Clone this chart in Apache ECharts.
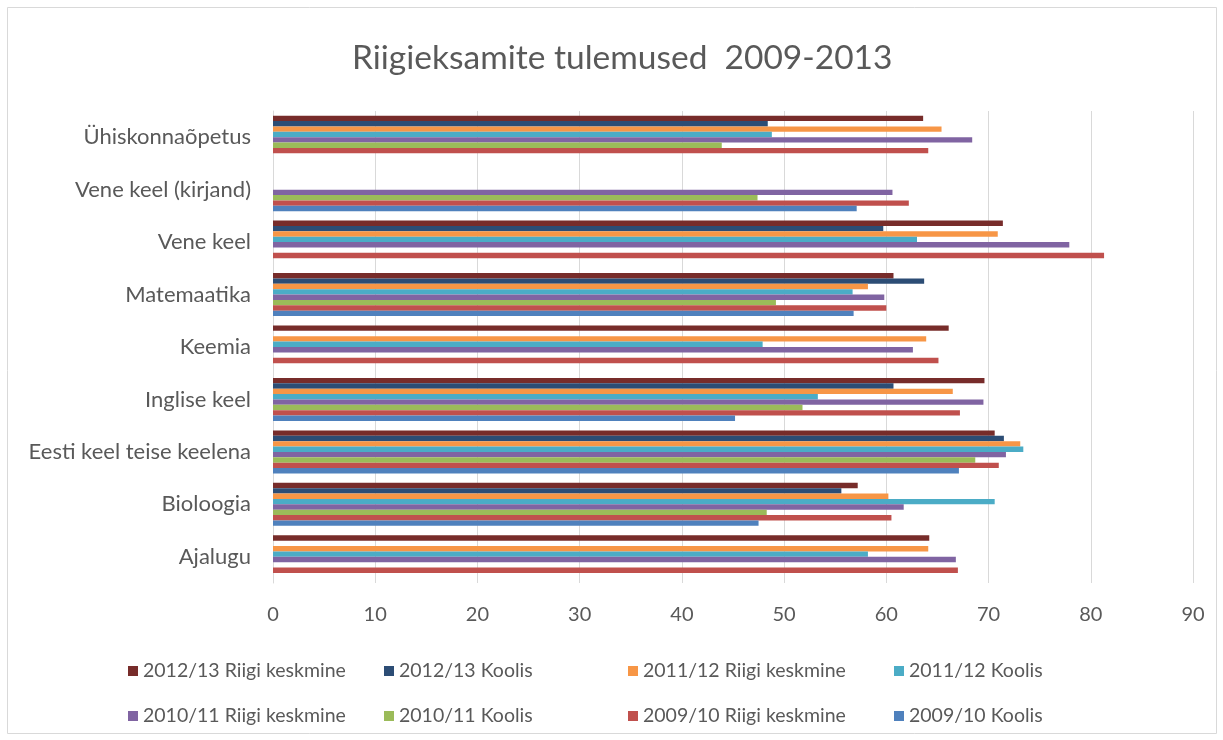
<!DOCTYPE html>
<html>
<head>
<meta charset="utf-8">
<script src="https://cdn.jsdelivr.net/npm/echarts@6.0.0/dist/echarts.min.js"></script>
<style>
html,body{margin:0;padding:0;background:#fff;}
#chart{width:1223px;height:740px;}
</style>
</head>
<body>
<div id="chart"></div>
<script>
// Categories, bottom to top
const categories = ['Ajalugu', 'Bioloogia', 'Eesti keel teise keelena', 'Inglise keel', 'Keemia', 'Matemaatika', 'Vene keel', 'Vene keel (kirjand)', 'Ühiskonnaõpetus'];

const titleText = 'Riigieksamite tulemused  2009-2013';

// Series values (same order as categories)
const riigi1213  = [64.2, 57.2, 70.6, 69.6, 66.1, 60.7, 71.4, null, 63.6];
const koolis1213 = [null, 55.6, 71.5, 60.7, null, 63.7, 59.7, null, 48.4];
const riigi1112  = [64.1, 60.2, 73.1, 66.5, 63.9, 58.2, 70.9, null, 65.4];
const koolis1112 = [58.2, 70.6, 73.4, 53.3, 47.9, 56.7, 63.0, null, 48.8];
const riigi1011  = [66.8, 61.7, 71.7, 69.5, 62.6, 59.8, 77.9, 60.6, 68.4];
const koolis1011 = [null, 48.3, 68.7, 51.8, null, 49.2, null, 47.4, 43.9];
const riigi0910  = [67.0, 60.5, 71.0, 67.2, 65.1, 60.0, 81.3, 62.2, 64.1];
const koolis0910 = [null, 47.5, 67.1, 45.2, null, 56.8, null, 57.1, null];

// Series names (legend order)
const seriesNames = ['2012/13 Riigi keskmine', '2012/13 Koolis', '2011/12 Riigi keskmine', '2011/12 Koolis',
                     '2010/11 Riigi keskmine', '2010/11 Koolis', '2009/10 Riigi keskmine', '2009/10 Koolis'];
const seriesData = [riigi1213, koolis1213, riigi1112, koolis1112, riigi1011, koolis1011, riigi0910, koolis0910];
const seriesColors = ['#772C2A', '#2C4D75', '#F79646', '#4BACC6', '#8064A2', '#9BBB59', '#C0504D', '#4F81BD'];

// X axis ticks
const xMin = 0, xMax = 90, xStep = 10;

const FONT = 'Lato, "Open Sans", sans-serif';
const TXT = '#595959';

// Legend layout (columns x, rows y)
const legendCols = [123, 379, 623, 889];
const legendRows = [656, 701];

const legends = seriesNames.map((n, i) => ({
  data: [n],
  left: legendCols[i % 4],
  top: legendRows[Math.floor(i / 4)],
  icon: 'rect',
  itemWidth: 10,
  itemHeight: 10,
  itemGap: 0,
  selectedMode: false,
  textStyle: {fontFamily: FONT, fontSize: 19.5, color: TXT, padding: [0, 0, 0, 0]}
}));

// Series in legend order: first series is drawn at the top of each group
const series = seriesNames.map((n, i) => ({
  name: n,
  type: 'bar',
  data: seriesData[i],
  itemStyle: {color: seriesColors[i]},
  barGap: '0%',
  barCategoryGap: '18%',
  animation: false
}));

const chart = echarts.init(document.getElementById('chart'), null, {renderer: 'canvas'});
chart.setOption({
  backgroundColor: '#fff',
  animation: false,
  title: {
    text: titleText,
    left: 347,
    top: 36,
    textStyle: {fontFamily: FONT, fontSize: 33.5, fontWeight: 'normal', color: TXT}
  },
  graphic: [{
    type: 'rect',
    shape: {x: 7.5, y: 7.5, width: 1209, height: 726},
    style: {fill: 'none', stroke: '#d9d9d9', lineWidth: 1},
    silent: true,
    z: -10
  }],
  legend: legends,
  grid: {left: 273, right: 30, top: 111, bottom: 157, containLabel: false},
  xAxis: {
    type: 'value',
    min: xMin, max: xMax, interval: xStep,
    axisLine: {show: false},
    axisTick: {show: false},
    splitLine: {show: true, lineStyle: {color: '#d9d9d9', width: 1}},
    axisLabel: {fontFamily: FONT, fontSize: 20, color: TXT, margin: 22}
  },
  yAxis: {
    type: 'category',
    data: categories,
    axisLine: {show: true, lineStyle: {color: '#d9d9d9'}},
    axisTick: {show: false},
    axisLabel: {fontFamily: FONT, fontSize: 22, color: TXT, margin: 22}
  },
  series: series
});
</script>
</body>
</html>
